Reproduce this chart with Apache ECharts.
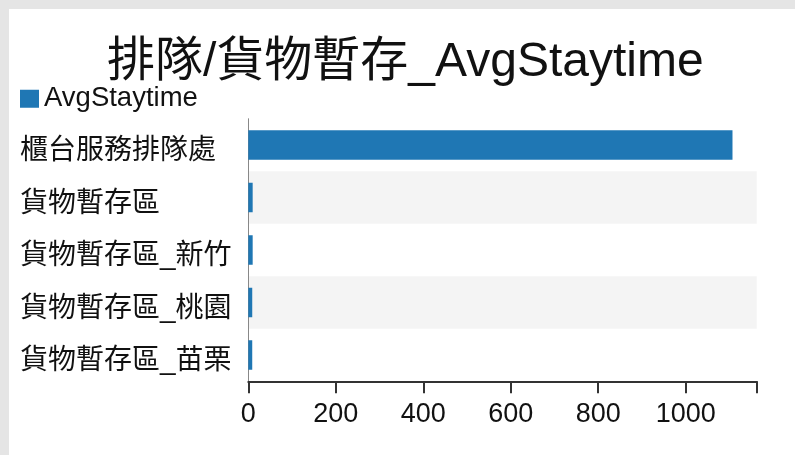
<!DOCTYPE html>
<html>
<head>
<meta charset="utf-8">
<script src="https://cdn.jsdelivr.net/npm/echarts@6/dist/echarts.min.js"></script>
<style>
  html, body { margin: 0; padding: 0; background: #e5e5e5; width: 795px; height: 455px; overflow: hidden; }
  #chart { position: absolute; left: 9px; top: 9px; width: 786px; height: 446px; background: #ffffff; }
</style>
</head>
<body>
<div id="chart"></div>
<script>
const titleText = '排隊/貨物暫存_AvgStaytime';
const seriesName = 'AvgStaytime';
const categories = ['櫃台服務排隊處', '貨物暫存區', '貨物暫存區_新竹', '貨物暫存區_桃園', '貨物暫存區_苗栗'];
const avgStaytime = [1107, 10, 10, 9, 9];
const xTickStep = 200;

const FONT = '"Liberation Sans", Arial, "Noto Sans CJK TC", sans-serif';
const xMax = Math.max.apply(null, avgStaytime) * 1.05;

const chart = echarts.init(document.getElementById('chart'), null, { renderer: 'canvas' });
chart.setOption({
  animation: false,
  backgroundColor: '#ffffff',
  title: {
    text: titleText,
    left: 98,
    top: 30,
    padding: 0,
    textStyle: { fontFamily: FONT, fontSize: 48, fontWeight: 'normal', color: '#111' }
  },
  legend: {
    data: [seriesName],
    left: 11,
    top: 76,
    padding: 0,
    icon: 'rect',
    itemWidth: 19,
    itemHeight: 18,
    textStyle: { fontFamily: FONT, fontSize: 27.5, color: '#111' }
  },
  grid: { left: 239.3, right: 38.3, top: 109.75, bottom: 73.75, containLabel: false },
  xAxis: [{
    type: 'value',
    position: 'bottom',
    min: 0,
    max: xMax,
    interval: xTickStep,
    axisLine: { show: true, onZero: false, lineStyle: { color: '#333', width: 2 } },
    axisTick: { show: true, inside: false, length: 12, lineStyle: { color: '#333', width: 2 } },
    splitLine: { show: false },
    axisLabel: {
      margin: 20,
      fontFamily: FONT,
      fontSize: 27,
      color: '#111',
      showMaxLabel: false,
      formatter: function (v) { return String(v); }
    }
  }, {
    type: 'value',
    position: 'bottom',
    offset: 0,
    min: 0,
    max: xMax,
    interval: xMax,
    axisLine: { show: false, onZero: false },
    axisTick: { show: true, inside: false, length: 12, lineStyle: { color: '#333', width: 2 } },
    splitLine: { show: false },
    axisLabel: { show: false }
  }],
  yAxis: {
    type: 'category',
    data: categories,
    inverse: true,
    axisLine: { show: true, lineStyle: { color: '#888', width: 1 } },
    axisTick: { show: false },
    splitLine: { show: false },
    splitArea: { show: true, areaStyle: { color: ['rgba(255,255,255,0)', '#f4f4f4'] } },
    axisLabel: {
      align: 'left',
      verticalAlign: 'top',
      lineHeight: 13,
      margin: 228.3,
      fontFamily: FONT,
      fontSize: 28,
      color: '#111'
    }
  },
  series: [{
    name: seriesName,
    type: 'bar',
    xAxisIndex: 0,
    data: avgStaytime,
    barWidth: 29.5,
    itemStyle: { color: '#1f77b4' }
  }]
});
</script>
</body>
</html>
